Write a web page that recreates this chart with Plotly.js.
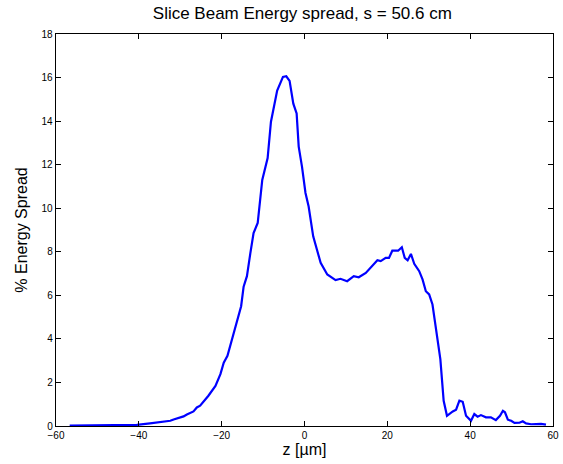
<!DOCTYPE html>
<html>
<head>
<meta charset="utf-8">
<script src="https://cdn.plot.ly/plotly-3.0.1.min.js"></script>
<style>html,body{margin:0;padding:0;background:#fff;}#chart{width:563px;height:464px;}</style>
</head>
<body>
<div id="chart"></div>
<script>
const zPos = [-56.7,-52,-48,-44,-40.5,-37.3,-34.9,-32.4,-31.6,-29.2,-28.4,-26.8,-26,-25.2,-23.2,-21.5,-20.3,-19.5,-18.6,-17.5,-16.3,-15.3,-14.7,-13.9,-13.1,-12.3,-11.3,-10.2,-8.9,-8.1,-6.6,-5.2,-4.4,-3.6,-2.7,-1.9,-1.4,-0.6,0.24,1.0,2.1,2.8,3.9,5.5,7.5,8.7,10.3,11.9,13.1,14.8,16.0,17.6,18.4,19.6,20.4,21.2,22.6,23.5,24.2,24.9,25.7,26.5,27.7,28.5,29.3,30.1,30.9,31.7,32.8,33.6,34.4,35.8,36.6,37.4,38.2,39.0,40.2,41.0,41.8,42.6,43.8,45.0,46.2,47.2,47.9,48.4,49.1,49.9,50.7,51.9,52.7,53.5,54.7,57.1,58.3];
const spread = [0.02,0.02,0.03,0.04,0.05,0.12,0.18,0.24,0.3,0.44,0.53,0.67,0.85,0.93,1.39,1.84,2.38,2.91,3.22,3.98,4.75,5.5,6.4,6.88,7.9,8.86,9.32,11.3,12.3,13.97,15.4,16.03,16.06,15.85,14.8,14.35,12.83,11.9,10.7,10.08,8.71,8.2,7.49,6.96,6.70,6.76,6.65,6.88,6.83,7.03,7.29,7.61,7.57,7.72,7.72,8.05,8.05,8.21,7.72,7.61,7.9,7.45,7.11,6.73,6.19,6.04,5.58,4.44,3.07,1.16,0.47,0.67,0.75,1.16,1.11,0.47,0.24,0.55,0.43,0.5,0.4,0.4,0.27,0.47,0.7,0.63,0.29,0.24,0.14,0.15,0.22,0.12,0.08,0.1,0.06];
const xTicks = [-60,-40,-20,0,20,40,60];
const yTicks = [0,2,4,6,8,10,12,14,16,18];

const fam = 'Liberation Sans, Arial, sans-serif';
const axisCommon = {
  showgrid: false, zeroline: false, showline: true, mirror: 'ticks',
  linecolor: '#000', linewidth: 1.3, ticks: 'inside', ticklen: 5, tickcolor: '#000',
  tickfont: {family: fam, size: 10, color: '#000'}
};
Plotly.newPlot('chart', [{
  x: zPos, y: spread, type: 'scatter', mode: 'lines',
  line: {color: '#0000ff', width: 2.2}
}], {
  width: 563, height: 464,
  margin: {l: 55.5, r: 10.3, t: 34, b: 37.5},
  paper_bgcolor: '#fff', plot_bgcolor: '#fff',
  showlegend: false,
  title: {text: 'Slice Beam Energy spread, s = 50.6 cm', x: 0.537, xanchor: 'center', y: 0.985, yanchor: 'top',
    font: {family: fam, size: 17, color: '#000'}},
  xaxis: Object.assign({}, axisCommon, {range: [-60, 60], tickvals: xTicks, ticktext: xTicks.map(v => v < 0 ? '\u2212' + Math.abs(v) : String(v)),
    title: {text: 'z [\u00b5m]', standoff: 2, font: {family: fam, size: 16, color: '#000'}}}),
  yaxis: Object.assign({}, axisCommon, {range: [0, 18], tickvals: yTicks,
    title: {text: '% Energy Spread', standoff: 10, font: {family: fam, size: 16, color: '#000'}}})
}, {staticPlot: true, displayModeBar: false});
</script>
</body>
</html>
